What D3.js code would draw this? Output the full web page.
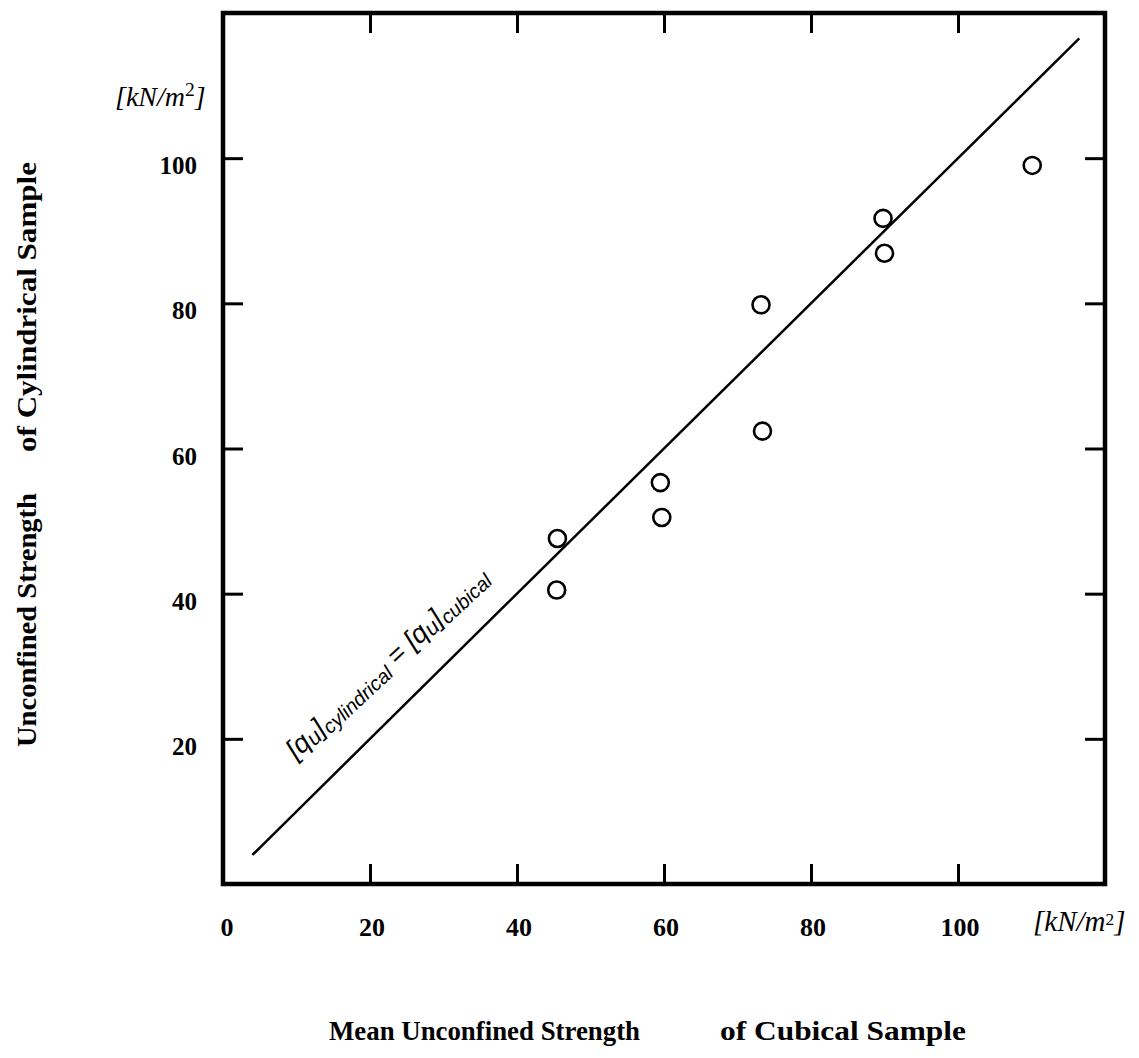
<!DOCTYPE html>
<html>
<head>
<meta charset="utf-8">
<script src="https://cdn.jsdelivr.net/npm/d3@7"></script>
<style>
  html, body { margin: 0; padding: 0; background: #fff; }
  svg { display: block; }
  .serif { font-family: "Liberation Serif", "Times New Roman", serif; font-weight: bold; fill: #000; }
  .unit { font-family: "Liberation Serif", "Times New Roman", serif; font-style: italic; fill: #000; }
</style>
</head>
<body>
<svg id="chart" width="1139" height="1058"></svg>
<script>
// Mean unconfined strength of cubical samples (x) vs cylindrical samples (y), kN/m²
const cubical     = [45.5, 45.4, 59.5, 59.7, 73.2, 73.4, 89.8, 90.0, 110.1];
const cylindrical = [47.6, 40.5, 55.3, 50.5, 79.8, 62.4, 91.7, 86.9, 99.0];
const xTickValues = [0, 20, 40, 60, 80, 100];
const yTickValues = [20, 40, 60, 80, 100];
const equalityLine = [4, 116.5];

const svg = d3.select("#chart");
const plotLeft = 223, plotRight = 1105, plotTop = 13, plotBottom = 884;

const x = d3.scaleLinear().domain([0, 120]).range([plotLeft, plotRight]);
const y = d3.scaleLinear().domain([0, 120]).range([plotBottom, plotTop]);

const tickLen = 20;

// inward ticks on all four sides
function styleTicks(g) {
  g.select(".domain").remove();
  g.selectAll(".tick line").attr("stroke", "#000").attr("stroke-width", 3);
  g.selectAll(".tick text").remove();
}
const innerX = xTickValues.filter(v => v > 0);
svg.append("g").attr("transform", `translate(0,${plotBottom})`)
  .call(d3.axisBottom(x).tickValues(innerX).tickSize(-tickLen)).call(styleTicks);
svg.append("g").attr("transform", `translate(0,${plotTop})`)
  .call(d3.axisTop(x).tickValues(innerX).tickSize(-tickLen)).call(styleTicks);
svg.append("g").attr("transform", `translate(${plotLeft},0)`)
  .call(d3.axisLeft(y).tickValues(yTickValues).tickSize(-tickLen)).call(styleTicks);
svg.append("g").attr("transform", `translate(${plotRight},0)`)
  .call(d3.axisRight(y).tickValues(yTickValues).tickSize(-tickLen)).call(styleTicks);

// frame
svg.append("rect")
  .attr("x", plotLeft).attr("y", plotTop)
  .attr("width", plotRight - plotLeft).attr("height", plotBottom - plotTop)
  .attr("fill", "none").attr("stroke", "#000").attr("stroke-width", 4.5);

// tick labels
svg.append("g").selectAll("text").data(xTickValues).join("text")
  .attr("class", "serif")
  .attr("x", d => x(d) + (d === 0 ? 4 : 2))
  .attr("y", 936)
  .attr("text-anchor", "middle")
  .attr("font-size", 26)
  .text(d => d);

svg.append("g").selectAll("text").data(yTickValues).join("text")
  .attr("class", "serif")
  .attr("x", 197)
  .attr("y", d => y(d) + 16)
  .attr("text-anchor", "end")
  .attr("font-size", 25)
  .text(d => d);

// unit labels
function unitLabel(tx, ty, size, supShift, supScale) {
  const t = svg.append("text").attr("class", "unit")
    .attr("x", tx).attr("y", ty).attr("font-size", size);
  t.append("tspan").text("[kN/m");
  t.append("tspan").attr("dy", -supShift).attr("font-size", size * supScale)
    .attr("font-style", "normal").text("2");
  t.append("tspan").attr("dy", supShift).text("]");
}
unitLabel(115, 106, 28, 10, 0.7);
unitLabel(1033, 931, 29, 6, 0.6);

// equality line
svg.append("line")
  .attr("x1", x(equalityLine[0])).attr("y1", y(equalityLine[0]))
  .attr("x2", x(equalityLine[1])).attr("y2", y(equalityLine[1]))
  .attr("stroke", "#000").attr("stroke-width", 2.5);

// equality line label
const eq = svg.append("text")
  .attr("transform", "translate(296,760) rotate(-43)")
  .attr("font-family", "'Liberation Sans', 'DejaVu Sans', sans-serif")
  .attr("font-style", "italic")
  .attr("font-size", 27)
  .attr("fill", "#000");
eq.append("tspan").text("[q");
eq.append("tspan").attr("font-size", 22).attr("dy", 3).text("u");
eq.append("tspan").attr("dy", -3).text("]");
eq.append("tspan").attr("font-size", 20).attr("dy", 5).text("cylindrical");
eq.append("tspan").attr("dy", -5).text(" = [q");
eq.append("tspan").attr("font-size", 22).attr("dy", 3).text("u");
eq.append("tspan").attr("dy", -3).text("]");
eq.append("tspan").attr("font-size", 20).attr("dy", 5).text("cubical");

// data points
const pts = cubical.map((c, i) => ({ c, q: cylindrical[i] }));
svg.append("g").selectAll("circle").data(pts).join("circle")
  .attr("cx", d => x(d.c))
  .attr("cy", d => y(d.q))
  .attr("r", 8.5)
  .attr("fill", "none")
  .attr("stroke", "#000")
  .attr("stroke-width", 2.6);

// axis titles
function title(text, transform, len, size) {
  svg.append("text").attr("class", "serif")
    .attr("transform", transform)
    .attr("font-size", size)
    .attr("textLength", len)
    .attr("lengthAdjust", "spacingAndGlyphs")
    .text(text);
}
title("Mean Unconfined Strength", "translate(329,1040)", 311, 28);
title("of Cubical Sample", "translate(720,1040)", 246, 28);
title("Unconfined Strength", "translate(36,747) rotate(-90)", 254, 28);
title("of Cylindrical Sample", "translate(36,452) rotate(-90)", 290, 28);
</script>
</body>
</html>
